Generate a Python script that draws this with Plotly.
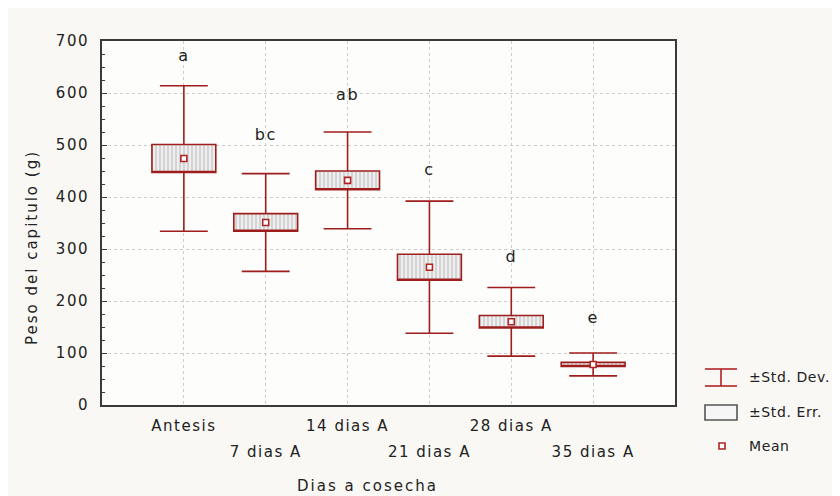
import plotly.graph_objects as go

# ---------------- data ----------------
categories = ["Antesis", "7 dias A", "14 dias A", "21 dias A", "28 dias A", "35 dias A"]
means = [474, 351, 432, 265, 160, 78]
std_err = [27, 17, 18, 25, 12, 4]
std_dev = [140, 94, 93, 127, 66, 22]
letters = ["a", "bc", "ab", "c", "d", "e"]
letter_y = [670, 518, 595, 450, 283, 165]
y_ticks = [0, 100, 200, 300, 400, 500, 600, 700]

positions = list(range(len(categories)))
row1_pos = positions[0::2]
row2_pos = positions[1::2]

FONT = "DejaVu Sans, Liberation Sans, Arial, sans-serif"
RED = "#b02424"
BOX_RED = "#9e1e1e"
TXT = "#222222"
FS = 15

# page geometry (pixels, page coordinates); the page body has an 8px margin
PAGE_W, PAGE_H, OFF = 840, 496, 8
L, R, T, B = 102, 675, 41, 405


def px(xp):
    return (xp - L) / (R - L)


def py(yp):
    return (B - yp) / (B - T)


def sp(text, ls=1.5):
    return f'<span style="letter-spacing:{ls}px">{text}</span>'


fig = go.Figure()

# hatched Std.Err. boxes (fill)
fig.add_trace(go.Bar(
    x=positions,
    y=[2 * s for s in std_err],
    base=[m - s for m, s in zip(means, std_err)],
    width=0.78,
    marker=dict(color="#ececec",
                line=dict(width=0),
                pattern=dict(shape="|", size=4, solidity=0.35,
                             fgcolor="#a0a0a0", bgcolor="#efefef")),
    showlegend=False, hoverinfo="skip",
))

# Std.Err. box outline + Std.Dev. whiskers
fig.add_trace(go.Box(
    x=positions,
    q1=[m - s for m, s in zip(means, std_err)],
    median=[m - s for m, s in zip(means, std_err)],
    q3=[m + s for m, s in zip(means, std_err)],
    lowerfence=[m - d for m, d in zip(means, std_dev)],
    upperfence=[m + d for m, d in zip(means, std_dev)],
    width=0.78,
    whiskerwidth=0.75,
    line=dict(color=BOX_RED, width=1.6),
    fillcolor="rgba(0,0,0,0)",
    showlegend=False, hoverinfo="skip",
))

# mean markers (on overlay axis so they sit above the boxes)
fig.add_trace(go.Scatter(
    x=positions, y=means, xaxis="x2", mode="markers",
    marker=dict(symbol="square", size=6, color="white",
                line=dict(color=RED, width=1.6)),
    showlegend=False, hoverinfo="skip",
))

# significance letters
fig.add_trace(go.Scatter(
    x=positions, y=letter_y, xaxis="x2", mode="text", text=[sp(t, 1.5) for t in letters],
    textfont=dict(family=FONT, size=FS + 1, color=TXT),
    showlegend=False, hoverinfo="skip",
))

# ---------------- legend (manual) ----------------
shapes = []
shapes += [
    dict(type="line", xref="paper", yref="paper", x0=px(705), x1=px(737), y0=py(369), y1=py(369),
         line=dict(color=RED, width=1.6)),
    dict(type="line", xref="paper", yref="paper", x0=px(705), x1=px(737), y0=py(386), y1=py(386),
         line=dict(color=RED, width=1.6)),
    dict(type="line", xref="paper", yref="paper", x0=px(721), x1=px(721), y0=py(369), y1=py(386),
         line=dict(color=RED, width=1.6)),
]
shapes.append(dict(type="rect", xref="paper", yref="paper", x0=px(705), x1=px(737), y0=py(420), y1=py(405),
                   line=dict(color="#555555", width=1.6), fillcolor="#f6f6f6"))
shapes.append(dict(type="rect", xref="paper", yref="paper", x0=px(719), x1=px(725), y0=py(449), y1=py(443),
                   line=dict(color=RED, width=1.6), fillcolor="white"))

annotations = []
for label, yy in [("±Std. Dev.", 377), ("±Std. Err.", 412), ("Mean", 446)]:
    annotations.append(dict(xref="paper", yref="paper", x=px(747), y=py(yy), text=sp(label, 0.6),
                            showarrow=False, xanchor="left", yanchor="middle",
                            font=dict(family=FONT, size=14, color=TXT)))

# axis titles
annotations.append(dict(xref="paper", yref="paper", x=px(367), y=py(486), text=sp("Dias a cosecha", 2),
                        showarrow=False, xanchor="center", yanchor="middle",
                        font=dict(family=FONT, size=FS, color=TXT)))
annotations.append(dict(xref="paper", yref="paper", x=px(32), y=py(248), text=sp("Peso del capitulo (g)", 2),
                        textangle=-90, showarrow=False, xanchor="center", yanchor="middle",
                        font=dict(family=FONT, size=FS, color=TXT)))

fig.update_layout(
    width=PAGE_W - OFF, height=PAGE_H - OFF,
    margin=dict(l=L - OFF, r=PAGE_W - R, t=T - OFF, b=PAGE_H - B, pad=0),
    paper_bgcolor="#f9f8f4",
    plot_bgcolor="#fdfdfb",
    font=dict(family=FONT, size=FS, color=TXT),
    showlegend=False,
    barmode="overlay",
    shapes=shapes,
    annotations=annotations,
    xaxis=dict(
        range=[-1, 6], tickmode="array", tickvals=positions,
        ticktext=[sp(c) if i in row1_pos else "" for i, c in zip(positions, categories)],
        showgrid=True, gridcolor="#cccccc", griddash="dot", gridwidth=1,
        zeroline=False, showline=True, linecolor="#3a3a3a", linewidth=2, mirror=True,
        ticks="", ticklabelstandoff=6,
        tickfont=dict(family=FONT, size=FS, color=TXT),
    ),
    xaxis2=dict(
        overlaying="x", matches="x", side="bottom", anchor="y",
        range=[-1, 6], tickmode="array", tickvals=row2_pos,
        ticktext=[sp(categories[i]) for i in row2_pos],
        showgrid=False, zeroline=False, showline=False, ticks="",
        ticklabelstandoff=36,
        tickfont=dict(family=FONT, size=FS, color=TXT),
    ),
    yaxis=dict(
        range=[0, 700], tickmode="array", tickvals=y_ticks,
        ticktext=[sp(str(v)) for v in y_ticks],
        showgrid=True, gridcolor="#cccccc", griddash="dot", gridwidth=1,
        zeroline=False, showline=True, linecolor="#3a3a3a", linewidth=2, mirror=True,
        ticks="inside", ticklen=5, tickcolor="#3a3a3a", ticklabelstandoff=8,
        minor=dict(dtick=25, ticks="inside", ticklen=3, tickcolor="#3a3a3a", showgrid=False),
        tickfont=dict(family=FONT, size=FS, color=TXT),
    ),
)

fig.write_html("out.html")
